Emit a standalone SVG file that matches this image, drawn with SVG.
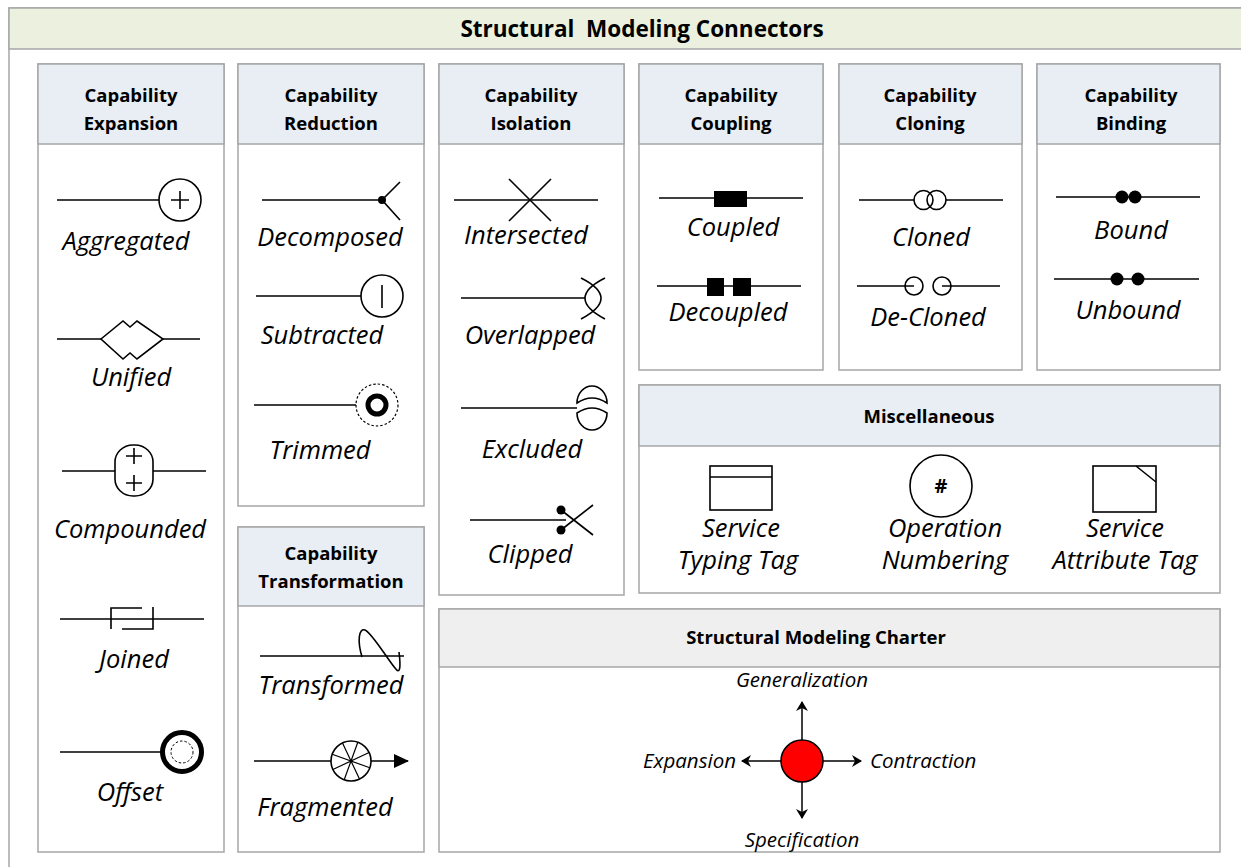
<svg xmlns="http://www.w3.org/2000/svg" width="1241" height="867" viewBox="0 0 1241 867">
<defs>
<style>
.frame{fill:#fff;stroke:#a6a6a6;stroke-width:1.5}
.panel{fill:#fff;stroke:#a6a6a6;stroke-width:1.5}
.hdr{fill:#e9edf4;stroke:#a6a6a6;stroke-width:1.5}
.hdr2{fill:#efefef;stroke:#a6a6a6;stroke-width:1.5}
.h{font-family:"Open Sans","Noto Sans",sans-serif;font-weight:bold;font-size:18.5px;text-anchor:middle;fill:#000}
.lbl{font-family:"Open Sans","Noto Sans",sans-serif;font-style:italic;font-size:25.5px;text-anchor:middle;fill:#000}
.sl{font-family:"Open Sans","Noto Sans",sans-serif;font-style:italic;font-size:20.5px;fill:#000}
.s{fill:none;stroke:#000;stroke-width:1.6}
.f{fill:#000;stroke:none}
.ln{stroke:#000;stroke-width:1.5;fill:none}
</style>
<marker id="ah" viewBox="0 0 10 12" refX="9" refY="6" markerWidth="10" markerHeight="12" markerUnits="userSpaceOnUse" orient="auto">
<path d="M0,0 L10,6 L0,12 L3,6 Z" fill="#000"/>
</marker>
<marker id="ahb" viewBox="0 0 15 14" refX="14" refY="7" markerWidth="15" markerHeight="14" markerUnits="userSpaceOnUse" orient="auto">
<path d="M0,0 L15,7 L0,14 Z" fill="#000"/>
</marker>
</defs>
<rect x="0" y="0" width="1241" height="867" fill="#fff"/>
<g id="frame">
<rect class="frame" x="9" y="8" width="1240" height="870"/>
<rect x="9" y="8" width="1240" height="41" fill="#ebf1de" stroke="#a6a6a6" stroke-width="1.5"/>
<text class="h" x="642" y="37" style="font-size:22.5px" xml:space="preserve">Structural  Modeling Connectors</text>
</g>

<g id="expansion">
<rect class="panel" x="38" y="64" width="186" height="788"/>
<rect class="hdr" x="38" y="64" width="186" height="80"/>
<text class="h" x="131" y="102">Capability</text>
<text class="h" x="131" y="130">Expansion</text>
<line class="ln" x1="57" y1="200" x2="159" y2="200"/>
<circle class="s" cx="180" cy="200" r="21"/>
<path class="s" d="M171,200H189M180,191V209"/>
<text class="lbl" x="126" y="250">Aggregated</text>
<line class="ln" x1="57" y1="339" x2="101" y2="339"/>
<line class="ln" x1="163" y1="339" x2="200" y2="339"/>
<path class="s" d="M101,339L123,321L130,327L137,321L163,339L137,359L130,353L123,359Z"/>
<text class="lbl" x="131" y="386">Unified</text>
<line class="ln" x1="62" y1="471" x2="115" y2="471"/>
<line class="ln" x1="153" y1="471" x2="206" y2="471"/>
<rect class="s" x="115" y="445" width="38" height="51" rx="18" ry="17"/>
<path class="s" d="M126,456H142M134,448V464M126,483H142M134,475V491"/>
<text class="lbl" x="130" y="538">Compounded</text>
<line class="ln" x1="60" y1="619" x2="204" y2="619"/>
<path class="s" d="M111,629V608H142M122,629H153V607"/>
<text class="lbl" x="134" y="668">Joined</text>
<line class="ln" x1="60" y1="752" x2="161" y2="752"/>
<circle cx="182" cy="752" r="19.5" fill="none" stroke="#000" stroke-width="5"/>
<circle cx="182" cy="752" r="11" fill="none" stroke="#000" stroke-width="1" stroke-dasharray="2.5,2"/>
<text class="lbl" x="130" y="801">Offset</text>
</g>

<g id="reduction">
<rect class="panel" x="238" y="64" width="186" height="442"/>
<rect class="hdr" x="238" y="64" width="186" height="80"/>
<text class="h" x="331" y="102">Capability</text>
<text class="h" x="331" y="130">Reduction</text>
<line class="ln" x1="262" y1="200" x2="382" y2="200"/>
<circle class="f" cx="382" cy="200" r="4"/>
<path class="s" d="M400,182L382,200L400,220"/>
<text class="lbl" x="330" y="246">Decomposed</text>
<line class="ln" x1="256" y1="296" x2="361" y2="296"/>
<circle class="s" cx="382" cy="296" r="21"/>
<line class="s" x1="382" y1="285" x2="382" y2="308"/>
<text class="lbl" x="322" y="344">Subtracted</text>
<line class="ln" x1="254" y1="405" x2="356" y2="405"/>
<circle cx="377" cy="405" r="21" fill="none" stroke="#000" stroke-width="1.2" stroke-dasharray="2.5,2"/>
<circle cx="377" cy="405" r="9" fill="none" stroke="#000" stroke-width="5"/>
<text class="lbl" x="320" y="459">Trimmed</text>
</g>

<g id="transformation">
<rect class="panel" x="238" y="527" width="186" height="325"/>
<rect class="hdr" x="238" y="527" width="186" height="79"/>
<text class="h" x="331" y="560">Capability</text>
<text class="h" x="331" y="588">Transformation</text>
<line class="ln" x1="260" y1="656" x2="404" y2="656"/>
<path class="s" d="M362,657C357,640 359,628 365,630C372,633 388,660 395,668C400,675 401,668 399,652"/>
<text class="lbl" x="331" y="694">Transformed</text>
<line class="ln" x1="254" y1="761" x2="331" y2="761"/>
<line class="ln" x1="371" y1="761" x2="408" y2="761" marker-end="url(#ahb)"/>
<circle class="s" cx="351" cy="761" r="20"/>
<path class="s" style="stroke-width:1.2" d="M369.8,767.8L332.2,754.2M359.5,779.1L342.5,742.9M344.2,779.8L357.8,742.2M332.9,769.5L369.1,752.5"/>
<text class="lbl" x="325" y="816">Fragmented</text>
</g>

<g id="isolation">
<rect class="panel" x="439" y="64" width="185" height="531"/>
<rect class="hdr" x="439" y="64" width="185" height="80"/>
<text class="h" x="531" y="102">Capability</text>
<text class="h" x="531" y="130">Isolation</text>
<line class="ln" x1="454" y1="200" x2="598" y2="200"/>
<path class="s" d="M509,179L551,221M551,179L509,221"/>
<text class="lbl" x="526" y="244">Intersected</text>
<line class="ln" x1="461" y1="298" x2="585" y2="298"/>
<path class="s" d="M581,278Q621,298 581,319M605,278Q565,298 605,319"/>
<text class="lbl" x="530" y="344">Overlapped</text>
<line class="ln" x1="461" y1="408" x2="577" y2="408"/>
<path class="s" d="M577,403A15,17 0 0 1 607,403Q592,393 577,403ZM577,413Q592,403 607,413A15,17 0 0 1 577,413Z"/>
<text class="lbl" x="532" y="458">Excluded</text>
<line class="ln" x1="470" y1="520" x2="566" y2="520"/>
<circle class="f" cx="561" cy="510" r="4.5"/>
<circle class="f" cx="561" cy="530" r="4.5"/>
<path class="s" d="M561,510L593,535M561,530L593,505"/>
<text class="lbl" x="530" y="563">Clipped</text>
</g>

<g id="coupling">
<rect class="panel" x="639" y="64" width="184" height="306"/>
<rect class="hdr" x="639" y="64" width="184" height="80"/>
<text class="h" x="731" y="102">Capability</text>
<text class="h" x="731" y="130">Coupling</text>
<line class="ln" x1="659" y1="198" x2="803" y2="198"/>
<rect class="f" x="714" y="191" width="33" height="16"/>
<text class="lbl" x="733" y="236">Coupled</text>
<line class="ln" x1="657" y1="286" x2="801" y2="286"/>
<rect class="f" x="707" y="278" width="17" height="18"/>
<rect class="f" x="733" y="278" width="18" height="18"/>
<text class="lbl" x="728" y="321">Decoupled</text>
</g>

<g id="cloning">
<rect class="panel" x="839" y="64" width="183" height="306"/>
<rect class="hdr" x="839" y="64" width="183" height="80"/>
<text class="h" x="930" y="102">Capability</text>
<text class="h" x="930" y="130">Cloning</text>
<line class="ln" x1="859" y1="200" x2="914" y2="200"/>
<line class="ln" x1="946" y1="200" x2="1003" y2="200"/>
<circle class="s" cx="923.5" cy="200" r="9.5"/>
<circle class="s" cx="936.5" cy="200" r="9.5"/>
<text class="lbl" x="931" y="246">Cloned</text>
<line class="ln" x1="857" y1="286" x2="914" y2="286"/>
<line class="ln" x1="942" y1="286" x2="1000" y2="286"/>
<circle class="s" cx="914" cy="286" r="9"/>
<circle class="s" cx="942" cy="286" r="9"/>
<text class="lbl" x="928" y="326">De-Cloned</text>
</g>

<g id="binding">
<rect class="panel" x="1037" y="64" width="183" height="306"/>
<rect class="hdr" x="1037" y="64" width="183" height="80"/>
<text class="h" x="1131" y="102">Capability</text>
<text class="h" x="1131" y="130">Binding</text>
<line class="ln" x1="1056" y1="197" x2="1200" y2="197"/>
<circle class="f" cx="1122" cy="197" r="6.5"/>
<circle class="f" cx="1135" cy="197" r="6.5"/>
<text class="lbl" x="1131" y="239">Bound</text>
<line class="ln" x1="1054" y1="279" x2="1199" y2="279"/>
<circle class="f" cx="1117" cy="279" r="6.5"/>
<circle class="f" cx="1138" cy="279" r="6.5"/>
<text class="lbl" x="1128" y="319">Unbound</text>
</g>

<g id="misc">
<rect class="panel" x="639" y="385" width="581" height="208"/>
<rect class="hdr" x="639" y="385" width="581" height="61"/>
<text class="h" x="929" y="423">Miscellaneous</text>
<rect class="s" x="710" y="466" width="62" height="44"/>
<line class="s" x1="710" y1="477" x2="772" y2="477"/>
<text class="lbl" x="741" y="537">Service</text>
<text class="lbl" x="738" y="569">Typing Tag</text>
<circle class="s" cx="941" cy="486" r="31"/>
<text class="h" x="941" y="493" style="font-size:20px">#</text>
<text class="lbl" x="945" y="537">Operation</text>
<text class="lbl" x="945" y="569">Numbering</text>
<rect class="s" x="1093" y="466" width="63" height="46"/>
<line class="s" x1="1136" y1="466" x2="1156" y2="482"/>
<text class="lbl" x="1125" y="537">Service</text>
<text class="lbl" x="1125" y="569">Attribute Tag</text>
</g>

<g id="charter">
<rect class="panel" x="439" y="609" width="781" height="243"/>
<rect class="hdr2" x="439" y="609" width="781" height="58"/>
<text class="h" x="816" y="644">Structural Modeling Charter</text>
<circle cx="802" cy="761" r="21" fill="#ff0000" stroke="#000" stroke-width="1.5"/>
<text class="sl" x="802" y="687" text-anchor="middle">Generalization</text>
<text class="sl" x="736" y="768" text-anchor="end">Expansion</text>
<text class="sl" x="870" y="768">Contraction</text>
<text class="sl" x="802" y="847" text-anchor="middle">Specification</text>
</g>

<g id="connectors">
<line class="ln" x1="802" y1="740" x2="802" y2="702" marker-end="url(#ah)"/>
<line class="ln" x1="802" y1="782" x2="802" y2="818" marker-end="url(#ah)"/>
<line class="ln" x1="781" y1="761" x2="742" y2="761" marker-end="url(#ah)"/>
<line class="ln" x1="823" y1="761" x2="861" y2="761" marker-end="url(#ah)"/>
</g>
</svg>
